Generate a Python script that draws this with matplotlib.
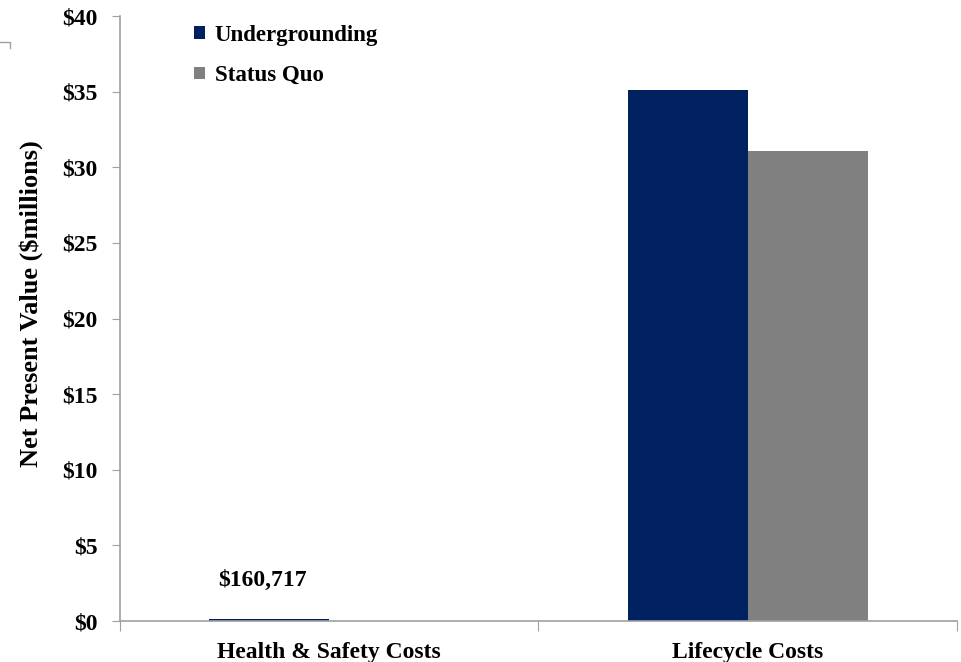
import matplotlib.pyplot as plt
import matplotlib.lines as mlines
import numpy as np

categories = ['Health & Safety Costs', 'Lifecycle Costs']
undergrounding = [0.160717, 35.1]
status_quo = [0.0, 31.1]
yticks = [0, 5, 10, 15, 20, 25, 30, 35, 40]

plt.rcParams['font.family'] = 'Liberation Serif'
plt.rcParams['font.weight'] = 'bold'

fig = plt.figure(figsize=(9.61, 6.62), dpi=100)
ax = fig.add_axes([0.1249, 0.0619, 0.8709, 0.9139])

x = np.arange(len(categories))
w = 0.287
b1 = ax.bar(x - w / 2, undergrounding, w, color='#002060', label='Undergrounding')
b2 = ax.bar(x + w / 2, status_quo, w, color='#808080', label='Status Quo')

# data label for the tiny bar
ax.text(x[0] - w / 2 - 0.015, undergrounding[0] + 2.5, '$160,717', ha='center', va='center',
        fontsize=17, fontweight='bold')

ax.set_xlim(-0.5, 1.5)
ax.set_ylim(0, 40)
ax.set_yticks(yticks)
ax.set_yticklabels(['$%d' % v for v in yticks], fontsize=17, fontweight='bold')
ax.set_xticks([-0.5, 0.5, 1.5])
ax.set_xticklabels([])
ax.set_xticks(x, minor=True)
ax.set_xticklabels(categories, minor=True, fontsize=17, fontweight='bold')
ax.tick_params(axis='x', which='minor', length=0, pad=15)
ax.tick_params(axis='x', which='major', length=7, color='#a0a0a0', direction='out')
ax.tick_params(axis='y', length=6, color='#a0a0a0', pad=10)

for s in ['top', 'right']:
    ax.spines[s].set_visible(False)
for s in ['left', 'bottom']:
    ax.spines[s].set_color('#a0a0a0')
    ax.spines[s].set_linewidth(1.2)

ax.set_ylabel('Net Present Value ($millions)', fontsize=19, fontweight='bold')
ax.yaxis.set_label_coords(-0.092, 0.525)

ax.legend(loc='upper left', bbox_to_anchor=(0.064, 1.02), frameon=False,
          handlelength=0.45, handleheight=0.45, handletextpad=0.45,
          labelspacing=0.85, prop={'weight': 'bold', 'size': 16.5})

# small corner mark at top left
fig.lines.append(mlines.Line2D([0, 10 / 961, 10 / 961], [1 - 42 / 662, 1 - 42 / 662, 1 - 48 / 662],
                               transform=fig.transFigure, color='#a0a0a0', lw=1))

fig.savefig('out.png', dpi=100)
